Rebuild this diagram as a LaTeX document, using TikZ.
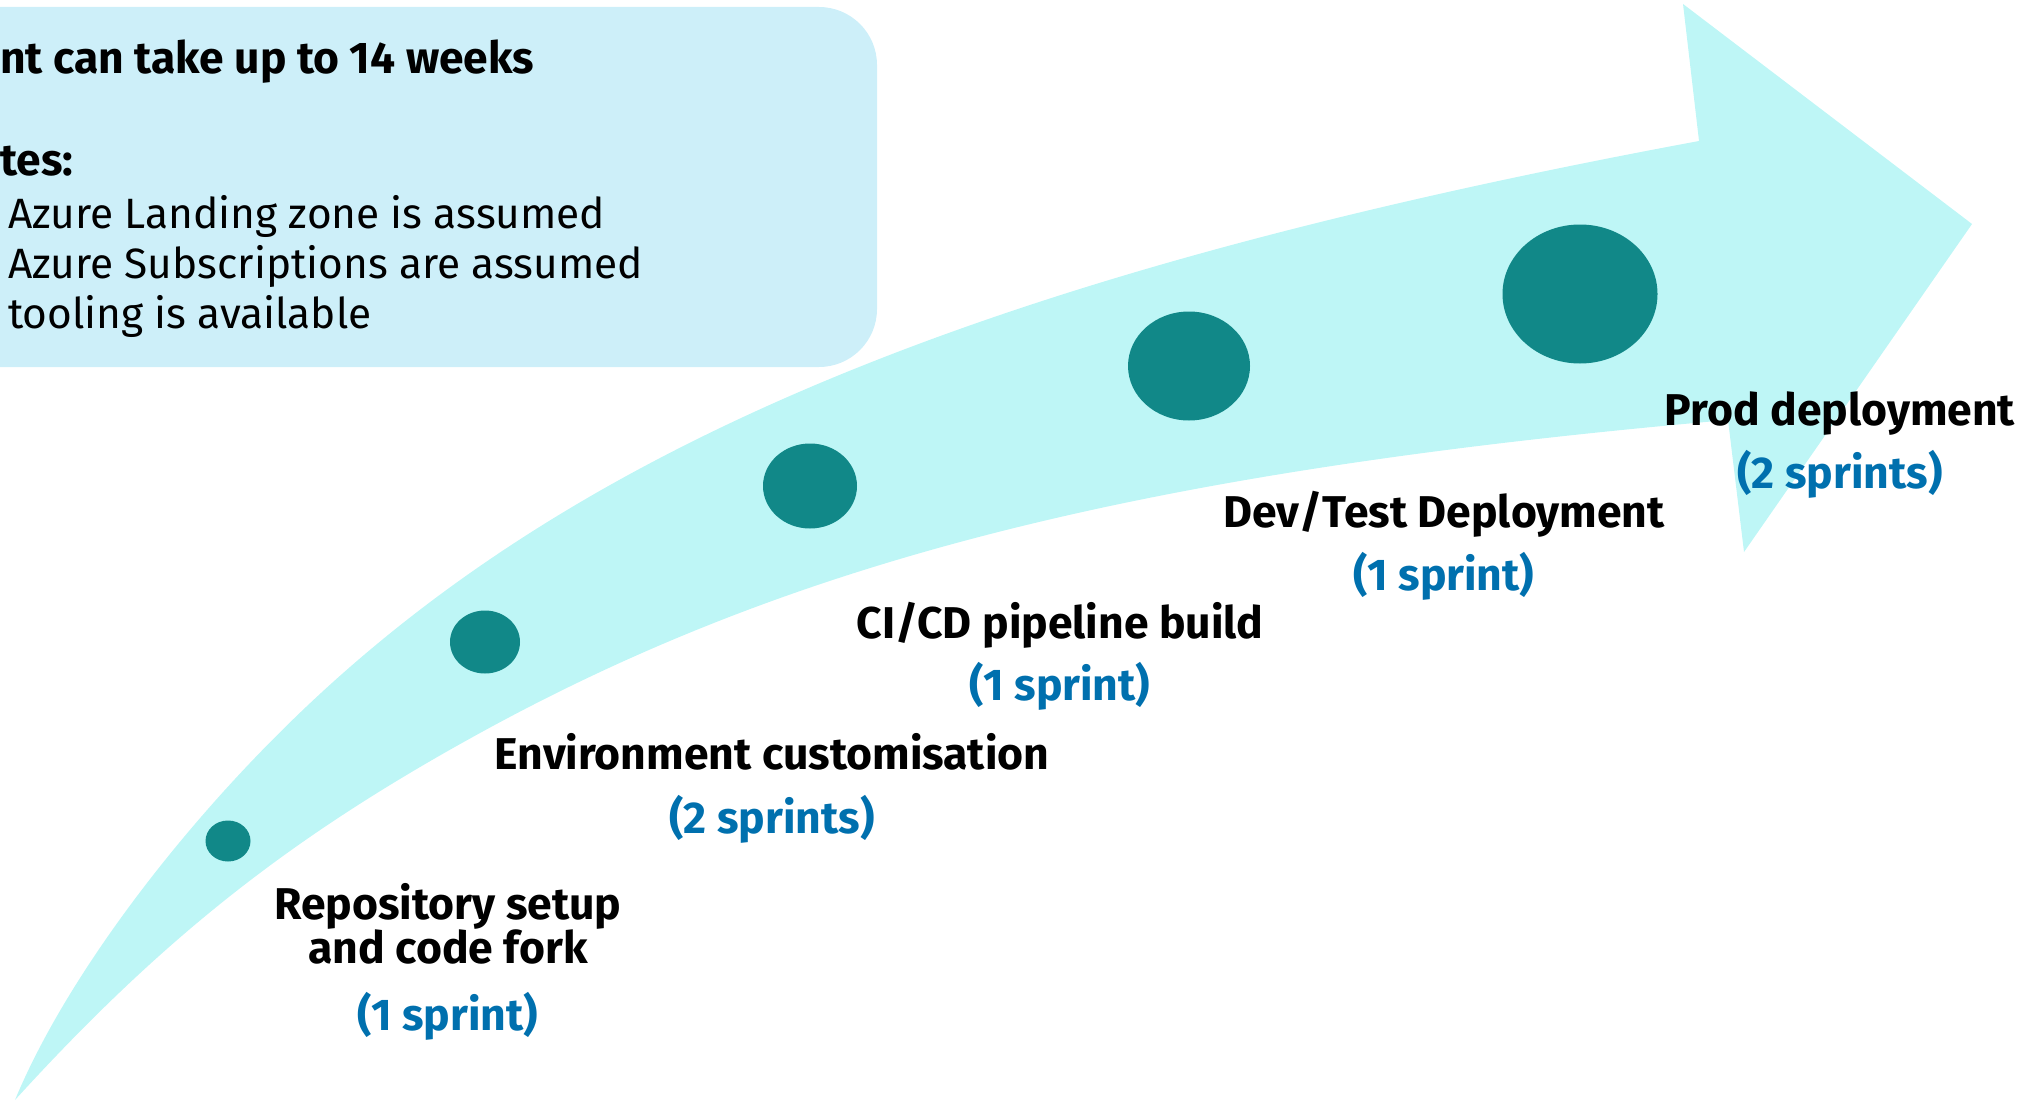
\documentclass[tikz,border=0pt]{standalone}
\usepackage{fontspec}
\setmainfont{Fira Sans}
\usetikzlibrary{shapes.geometric,positioning}

\definecolor{notebg}{RGB}{205,239,249}
\definecolor{arrowbg}{RGB}{190,246,246}
\definecolor{dotteal}{RGB}{17,136,136}
\definecolor{sprintblue}{RGB}{0,112,174}

\begin{document}
\begin{tikzpicture}[x=1pt,y=-1pt,
    milestone/.style={ellipse,fill=dotteal,inner sep=0pt},
    stage/.style={font=\fontsize{44.5}{44}\selectfont\bfseries,align=center,anchor=base,inner sep=0pt},
    sprints/.style={font=\fontsize{44.5}{44}\selectfont\bfseries,text=sprintblue,anchor=base,inner sep=0pt},
    notetext/.style={font=\fontsize{42.4}{50}\selectfont,anchor=base west,inner sep=0pt},
    notebold/.style={notetext,font=\fontsize{44.4}{50}\selectfont\bfseries}]
    \useasboundingbox (0,0) rectangle (2041,1102);

    % big curved arrow: upper edge, head, lower edge back to the tail
    \fill[arrowbg] (15,1100) .. controls (70,967) and (204,794) .. (350,667)
        .. controls (631,422) and (1036,264) .. (1699,141)
        -- (1683,4) -- (1972,224) -- (1744,552) -- (1728,420)
        .. controls (1146,471) and (797,559) .. (480,733)
        .. controls (296,834) and (167,933) .. (15,1100) -- cycle;

    % notes box, top left
    \fill[notebg,rounded corners=58] (-100,7) rectangle (877,367);
    \node[notebold] (weeks) at (0,74) {nt can take up to 14 weeks};
    \node[notebold] (notes) at (0,176) {tes:};
    \node[notetext] (landing) at (8,228) {Azure Landing zone is assumed};
    \node[notetext] (subs) at (8,278) {Azure Subscriptions are assumed};
    \node[notetext] (tooling) at (8,328) {tooling is available};

    % milestones along the arrow
    \node[milestone,minimum width=45pt,minimum height=41pt] (m1) at (228,841) {};
    \node[milestone,minimum width=70pt,minimum height=63pt] (m2) at (485,642) {};
    \node[milestone,minimum width=94pt,minimum height=85pt] (m3) at (810,486) {};
    \node[milestone,minimum width=122pt,minimum height=109pt] (m4) at (1189,366) {};
    \node[milestone,minimum width=155pt,minimum height=139pt] (m5) at (1580,294) {};

    % stage names (base = last line)
    \node[stage] (repo) at (448,963) {Repository setup\\and code fork};
    \node[stage] (env) at (772,769) {Environment customisation};
    \node[stage] (cicd) at (1060,638) {CI/CD pipeline build};
    \node[stage] (devtest) at (1444,527) {Dev/Test Deployment};
    \node[stage] (prod) at (1840,425) {Prod deployment};

    % durations
    \node[sprints] (repodur) at (448,1030) {(1 sprint)};
    \node[sprints] (envdur) at (772,833) {(2 sprints)};
    \node[sprints] (cicddur) at (1060,700) {(1 sprint)};
    \node[sprints] (devtestdur) at (1444,590) {(1 sprint)};
    \node[sprints] (proddur) at (1840,488) {(2 sprints)};
\end{tikzpicture}
\end{document}
